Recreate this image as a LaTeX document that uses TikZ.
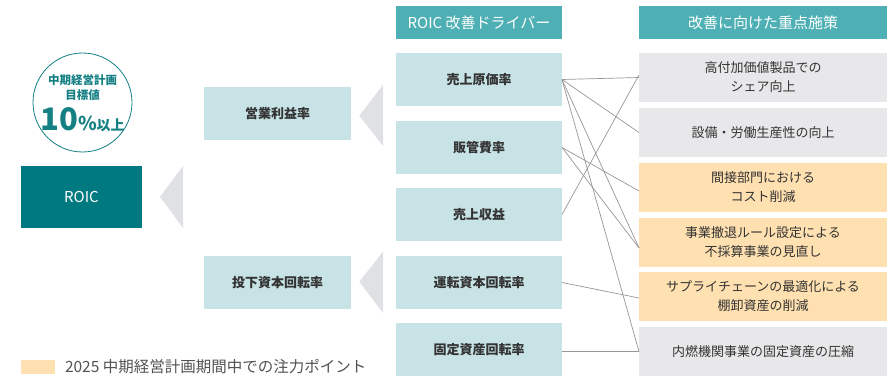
\documentclass[tikz,border=0pt]{standalone}
\usepackage{fontspec}
\setmainfont{Noto Sans CJK JP}
\newfontfamily\jp{Noto Sans CJK JP}
\definecolor{hdr}{RGB}{78,176,180}
\definecolor{drvc}{RGB}{200,227,230}
\definecolor{roicc}{RGB}{0,122,128}
\definecolor{greyc}{RGB}{232,232,234}
\definecolor{orc}{RGB}{255,224,176}
\definecolor{trig}{RGB}{224,225,228}
\definecolor{linec}{RGB}{150,150,150}
\definecolor{circc}{RGB}{21,128,132}
\definecolor{txt}{RGB}{51,51,51}
\begin{document}
\begin{tikzpicture}[x=1pt,y=-1pt,
  every node/.style={inner sep=0pt,outer sep=0pt},
  hdrbox/.style={fill=hdr,text=white,minimum height=33pt,font=\jp\fontsize{15}{18}\selectfont},
  drvbox/.style={fill=drvc,text=txt,minimum width=166pt,minimum height=53pt,font=\jp\bfseries\fontsize{13}{15}\selectfont},
  midbox/.style={fill=drvc,text=txt,minimum width=147pt,minimum height=53pt,font=\jp\bfseries\fontsize{13}{15}\selectfont},
  actbox/.style={text=txt,minimum width=248pt,minimum height=49pt,align=center,font=\jp\fontsize{13}{19}\selectfont},
  greybox/.style={actbox,fill=greyc},
  orbox/.style={actbox,fill=orc},
  conn/.style={draw=linec,line width=0.7pt},
  tri/.style={fill=trig}
]
\useasboundingbox (0,0) rectangle (896,377);
% headers
\node[hdrbox,minimum width=166pt] (h1) at (479,22.5) {ROIC 改善ドライバー};
\node[hdrbox,minimum width=248pt] (h2) at (763,22.5) {改善に向けた重点施策};
% drivers
\node[drvbox] (d1) at (479,79.5) {売上原価率};
\node[drvbox] (d2) at (479,147.5) {販管費率};
\node[drvbox] (d3) at (479,214.5) {売上収益};
\node[drvbox] (d4) at (479,282.5) {運転資本回転率};
\node[drvbox] (d5) at (479,349.5) {固定資産回転率};
% actions
\node[greybox] (r1) at (763,77.5) {高付加価値製品での\\シェア向上};
\node[greybox] (r2) at (763,132.5) {設備・労働生産性の向上};
\node[orbox] (r3) at (763,187.5) {間接部門における\\コスト削減};
\node[orbox] (r4) at (763,242.5) {事業撤退ルール設定による\\不採算事業の見直し};
\node[orbox] (r5) at (763,296.5) {サプライチェーンの最適化による\\棚卸資産の削減};
\node[greybox] (r6) at (763,351.5) {内燃機関事業の固定資産の圧縮};
% middle
\node[midbox] (m1) at (277.5,113.4) {営業利益率};
\node[midbox] (m2) at (277.5,282.4) {投下資本回転率};
% ROIC
\node[fill=roicc,text=white,minimum width=121pt,minimum height=62pt,font=\jp\fontsize{15}{17}\selectfont] (roic) at (81.5,197) {ROIC};
% circle
\node[circle,draw=circc,line width=0.8pt,minimum size=99pt] (circ) at (82.5,102.5) {};
\node[text=circc,font=\jp\bfseries\fontsize{11.5}{13}\selectfont] (c1) at (82.5,80.5) {中期経営計画};
\node[text=circc,font=\jp\bfseries\fontsize{11.5}{13}\selectfont] (c2) at (82.5,95.5) {目標値};
\node[text=circc,font=\jp\bfseries,anchor=base] (c3) at (82.5,131) {{\fontsize{31}{33}\selectfont 10}{\fontsize{19}{21}\selectfont\%}{\fontsize{14}{17}\selectfont 以上}};
% triangles
\fill[tri] (383,85) -- (359.3,115.7) -- (383,146) -- cycle;
\fill[tri] (383,251.7) -- (359.3,281.7) -- (383,313) -- cycle;
\fill[tri] (183,166) -- (160,196.7) -- (183,228) -- cycle;
% connectors
\draw[conn] (d1.east) -- (r1.west);
\draw[conn] (d1.east) -- (r2.west);
\draw[conn] (d1.east) -- ([yshift=-5.5pt]r4.west);
\draw[conn] (d1.east) -- (r6.west);
\draw[conn] (d2.east) -- ([yshift=-3.5pt]r3.west);
\draw[conn] (d2.east) -- ([yshift=-5.5pt]r4.west);
\draw[conn] (d3.east) -- ([yshift=2.5pt]r1.west);
\draw[conn] (d4.east) -- ([yshift=-1.5pt]r5.west);
\draw[conn] ([yshift=-2pt]d5.east) -- (r6.west);
% legend
\fill[orc] (21,360) rectangle (55,374.3);
\node[anchor=west,text=txt!85,font=\jp\fontsize{15.5}{17}\selectfont] (leg) at (65,367) {2025 中期経営計画期間中での注力ポイント};
\end{tikzpicture}
\end{document}
